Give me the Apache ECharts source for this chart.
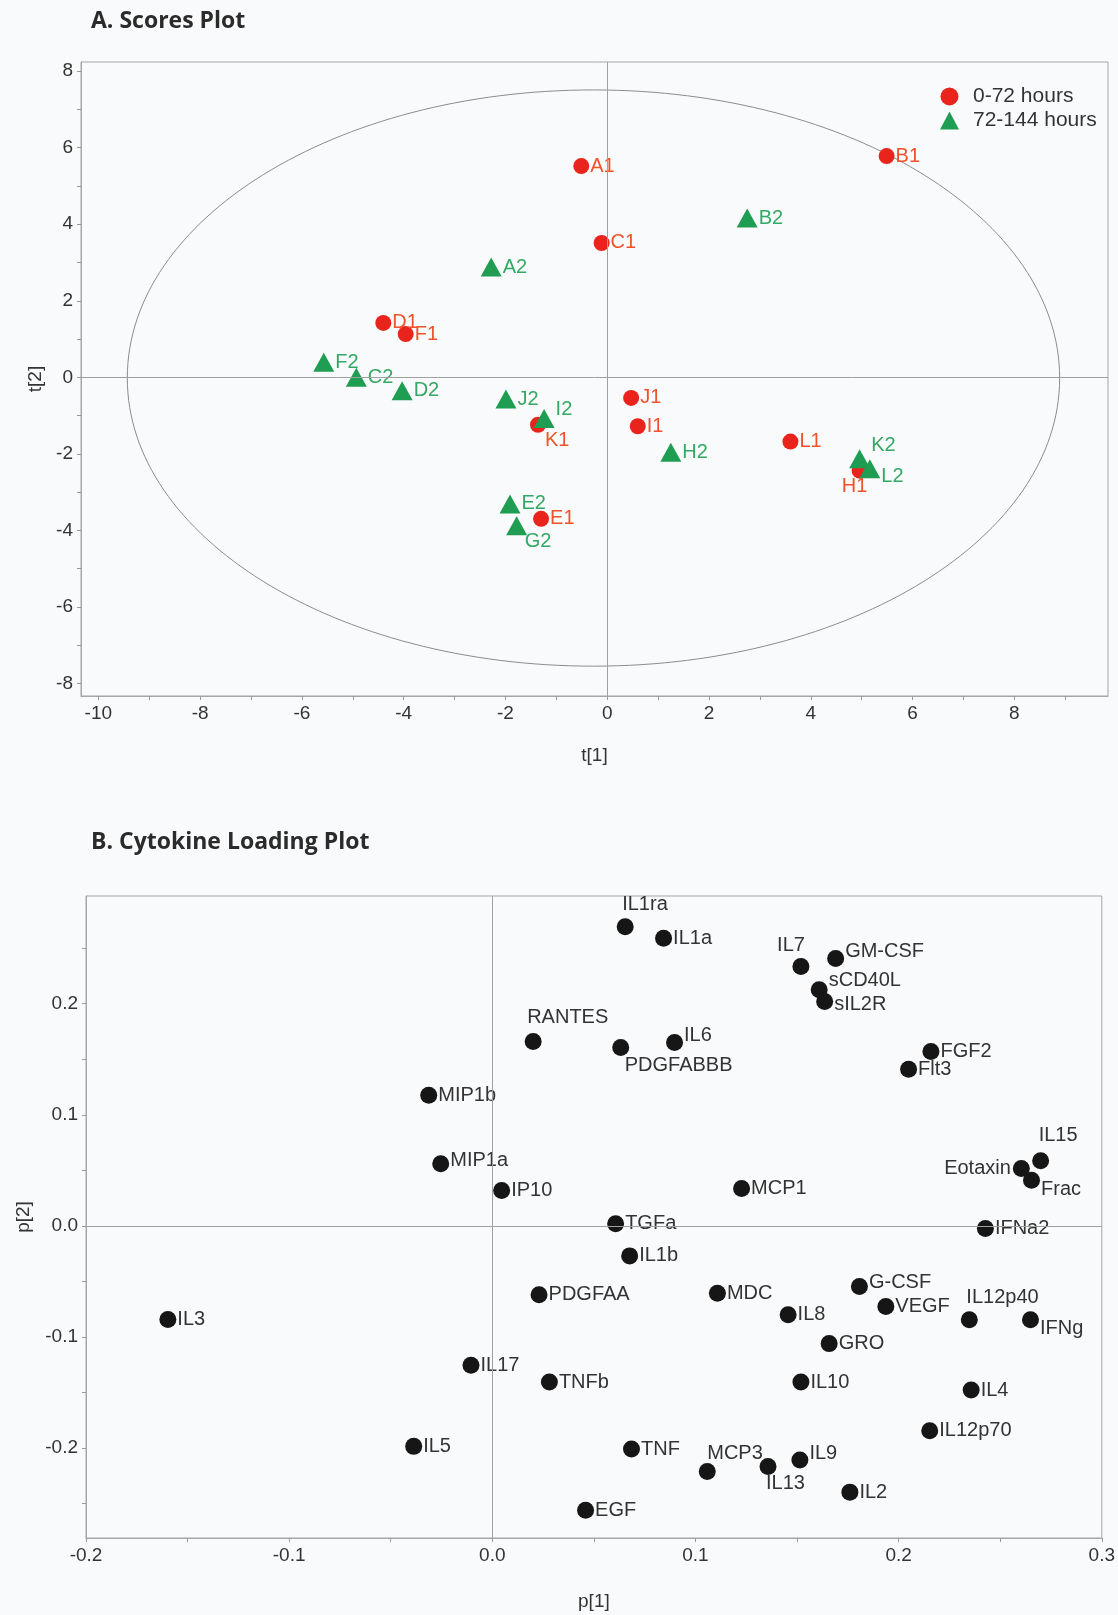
<!DOCTYPE html>
<html>
<head>
<meta charset="utf-8">
<title>Scores and Cytokine Loading Plot</title>
<script src="https://cdn.jsdelivr.net/npm/echarts@6/dist/echarts.min.js"></script>
<style>
    html, body { margin: 0; padding: 0; background: #f9fafb; }
    #chartDemo { width: 1118px; height: 1615px; }
</style>
</head>
<body>
<div id="chartDemo"></div>
<script>
// A. scores plot, 0-72 hours (red circles)
let earlyNames = ['A1', 'B1', 'C1', 'D1', 'F1', 'J1', 'I1', 'K1', 'L1', 'H1', 'E1'];
let earlyT1 = [-0.51, 5.49, -0.11, -4.40, -3.96, 0.47, 0.60, -1.36, 3.60, 4.96, -1.30];
let earlyT2 = [5.52, 5.78, 3.51, 1.42, 1.13, -0.54, -1.28, -1.24, -1.68, -2.44, -3.70];

// 72-144 hours (green triangles)
let lateNames = ['B2', 'A2', 'F2', 'C2', 'D2', 'J2', 'I2', 'H2', 'K2', 'L2', 'E2', 'G2'];
let lateT1 = [2.75, -2.28, -5.57, -4.93, -4.03, -1.99, -1.24, 1.25, 4.96, 5.16, -1.91, -1.78];
let lateT2 = [4.16, 2.88, 0.39, 0.00, -0.35, -0.57, -1.08, -1.96, -2.13, -2.39, -3.31, -3.88];

// Hotelling T2 ellipse (centre, half axes) in t[1]/t[2] units
let ellipseCentre = [-0.27, -0.02];
let ellipseHalfAxes = [9.16, 7.53];

let scoreXLabels = [-10, -8, -6, -4, -2, 0, 2, 4, 6, 8];
let scoreXTicks = [-10, -9, -8, -7, -6, -5, -4, -3, -2, -1, 0, 1, 2, 3, 4, 5, 6, 7, 8, 9];
let scoreYLabels = [-8, -6, -4, -2, 0, 2, 4, 6, 8];
let scoreYTicks = [-8, -7, -6, -5, -4, -3, -2, -1, 0, 1, 2, 3, 4, 5, 6, 7, 8];

// B. cytokine loadings
let cytokines = ['IL1ra', 'IL1a', 'IL7', 'GM-CSF', 'sCD40L', 'sIL2R', 'RANTES', 'PDGFABBB', 'IL6',
    'FGF2', 'Flt3', 'MIP1b', 'MIP1a', 'IP10', 'MCP1', 'IL15', 'Eotaxin', 'Frac', 'TGFa', 'IFNa2',
    'IL1b', 'PDGFAA', 'MDC', 'G-CSF', 'VEGF', 'IL8', 'IL12p40', 'IFNg', 'IL3', 'GRO', 'IL17',
    'TNFb', 'IL10', 'IL4', 'IL12p70', 'IL5', 'TNF', 'MCP3', 'IL13', 'IL9', 'IL2', 'EGF'];
let loadP1 = [0.0654, 0.0843, 0.1519, 0.1690, 0.1609, 0.1636, 0.0201, 0.0632, 0.0897,
    0.2159, 0.2049, -0.0313, -0.0254, 0.0046, 0.1227, 0.2699, 0.2604, 0.2654, 0.0607, 0.2427,
    0.0676, 0.0230, 0.1108, 0.1807, 0.1937, 0.1456, 0.2348, 0.2649, -0.1597, 0.1658, -0.0105,
    0.0281, 0.1519, 0.2357, 0.2153, -0.0387, 0.0685, 0.1058, 0.1357, 0.1514, 0.1760, 0.0459];
let loadP2 = [0.2694, 0.2589, 0.2336, 0.2408, 0.2126, 0.2021, 0.1660, 0.1607, 0.1652,
    0.1571, 0.1411, 0.1176, 0.0560, 0.0318, 0.0336, 0.0586, 0.0517, 0.0411, 0.0020, -0.0024,
    -0.0270, -0.0620, -0.0606, -0.0546, -0.0725, -0.0800, -0.0845, -0.0845, -0.0842, -0.1060, -0.1254,
    -0.1406, -0.1406, -0.1478, -0.1845, -0.1985, -0.2009, -0.2212, -0.2167, -0.2107, -0.2397, -0.2561];

let loadXLabels = [-0.2, -0.1, 0, 0.1, 0.2, 0.3];
let loadXTicks = [-0.2, -0.15, -0.1, -0.05, 0, 0.05, 0.1, 0.15, 0.2, 0.25, 0.3];
let loadYLabels = [-0.2, -0.1, 0, 0.1, 0.2];
let loadYTicks = [-0.25, -0.2, -0.15, -0.1, -0.05, 0, 0.05, 0.1, 0.15, 0.2, 0.25];

const FONT = '"Liberation Sans", Arial, sans-serif';

// label placements that are not simply "to the right"
let topLeft = {position: 'top', align: 'left', distance: 4, offset: [-3, 0]};
let scoreLabelPos = {
    K1: {position: 'bottom', align: 'left', distance: 0, offset: [7, -2]},
    H1: {position: 'bottom', distance: 0, offset: [-5, -2]},
    G2: {position: 'bottom', align: 'left', distance: 0, offset: [8, -4]},
    K2: {offset: [0, -13]},
    I2: {offset: [0, -9]},
    L2: {offset: [0, 8]}
};
let loadLabelPos = {
    'IL1ra': topLeft,
    'RANTES': {position: 'top', align: 'left', distance: 6, offset: [-6, 0]},
    'IL15': {position: 'top', align: 'left', distance: 7, offset: [-2, 0]},
    'IL12p40': topLeft,
    'MCP3': {position: 'top', align: 'left', distance: 0, offset: [0, 0]},
    'IL7': {position: 'top', align: 'right', distance: 2, offset: [4, 0]},
    'Eotaxin': {position: 'left', distance: 2},
    'PDGFABBB': {position: 'bottom', align: 'left', distance: 0, offset: [4, 0]},
    'IL13': {position: 'bottom', align: 'left', distance: 0, offset: [-2, -2]},
    'Frac': {offset: [0, 9]},
    'IFNg': {offset: [0, 9]},
    'sCD40L': {offset: [0, -9]},
    'GM-CSF': {offset: [0, -7]},
    'IL6': {offset: [0, -7]},
    'IL9': {offset: [0, -6]},
    'G-CSF': {offset: [0, -4]},
    'MIP1a': {offset: [0, -3]},
    'sIL2R': {offset: [0, 3]}
};

function buildItems(names, xs, ys, posMap) {
    let items = [];
    for (let i = 0; i < names.length; i++) {
        let item = {name: names[i], value: [xs[i], ys[i]]};
        if (posMap[names[i]]) {
            item.label = posMap[names[i]];
        }
        items.push(item);
    }
    return items;
}

function axisCommon(labels, ticks, fmt) {
    return {
        type: 'value',
        axisLine: {show: true, onZero: false, lineStyle: {color: '#a6a6a6'}},
        axisTick: {show: true, length: 4, customValues: ticks, lineStyle: {color: '#999'}},
        axisLabel: {customValues: labels, fontSize: 19, color: '#333', fontFamily: FONT, formatter: fmt},
        splitLine: {show: false},
        nameLocation: 'middle',
        nameTextStyle: {fontSize: 19, color: '#333', fontFamily: FONT}
    };
}

let zeroLines = {
    silent: true,
    symbol: 'none',
    label: {show: false},
    lineStyle: {color: '#a0a0a0', type: 'solid', width: 1},
    data: [{xAxis: 0}, {yAxis: 0}]
};

let titleStyle = {fontSize: 23, fontWeight: 'bold', color: '#2b2b2b', fontFamily: '"Open Sans", sans-serif'};

let myChart = echarts.init(document.getElementById('chartDemo'));

let option = {
    animation: false,
    backgroundColor: '#f9fafb',
    title: [
        {text: 'A. Scores Plot', left: 86, top: 5, textStyle: titleStyle},
        {text: 'B. Cytokine Loading Plot', left: 86, top: 826, textStyle: titleStyle}
    ],
    legend: {
        left: 935, top: 81, orient: 'vertical',
        itemWidth: 19, itemHeight: 18, itemGap: 3,
        textStyle: {fontSize: 21, color: '#333', fontFamily: FONT, padding: [0, 0, 0, 9]},
        data: [{name: '0-72 hours', icon: 'circle'}, {name: '72-144 hours', icon: 'triangle'}]
    },
    grid: [
        {left: 81, top: 62, width: 1027, height: 634, show: true,
            borderColor: '#a6a6a6', borderWidth: 1, backgroundColor: '#f9fafb'},
        {left: 86, top: 896, width: 1022, height: 642, show: true,
            borderColor: '#a6a6a6', borderWidth: 1, backgroundColor: '#f9fafb'}
    ],
    xAxis: [
        Object.assign(axisCommon(scoreXLabels, scoreXTicks, v => String(v)), {
            gridIndex: 0, min: -10.34, max: 9.84, name: 't[1]', nameGap: 50
        }),
        Object.assign(axisCommon(loadXLabels, loadXTicks, v => v.toFixed(1)), {
            gridIndex: 1, min: -0.2, max: 0.3, name: 'p[1]', nameGap: 54
        })
    ],
    yAxis: [
        Object.assign(axisCommon(scoreYLabels, scoreYTicks, v => String(v)), {
            gridIndex: 0, min: -8.33, max: 8.24, name: 't[2]', nameGap: 32
        }),
        Object.assign(axisCommon(loadYLabels, loadYTicks, v => v.toFixed(1)), {
            gridIndex: 1, min: -0.281, max: 0.297, name: 'p[2]', nameGap: 53
        })
    ],
    series: [
        {
            name: 'ellipse',
            type: 'custom',
            xAxisIndex: 0,
            yAxisIndex: 0,
            silent: true,
            data: [[ellipseCentre[0], ellipseCentre[1], ellipseHalfAxes[0], ellipseHalfAxes[1]]],
            renderItem: function (params, api) {
                let c = api.coord([api.value(0), api.value(1)]);
                let s = api.size([api.value(2), api.value(3)]);
                return {
                    type: 'ellipse',
                    shape: {cx: c[0], cy: c[1], rx: s[0], ry: s[1]},
                    style: {fill: 'none', stroke: '#8c8c8c', lineWidth: 1}
                };
            },
            markLine: zeroLines
        },
        {
            name: '0-72 hours',
            type: 'scatter',
            xAxisIndex: 0,
            yAxisIndex: 0,
            symbol: 'circle',
            symbolSize: 16,
            itemStyle: {color: '#e9241d', opacity: 1},
            label: {show: true, position: 'right', distance: 1, formatter: '{b}',
                fontSize: 20, color: '#f0522a', fontFamily: FONT},
            data: buildItems(earlyNames, earlyT1, earlyT2, scoreLabelPos)
        },
        {
            name: '72-144 hours',
            type: 'scatter',
            xAxisIndex: 0,
            yAxisIndex: 0,
            symbol: 'triangle',
            symbolSize: [21, 19],
            itemStyle: {color: '#1f9d52', opacity: 1},
            label: {show: true, position: 'right', distance: 1, formatter: '{b}',
                fontSize: 20, color: '#34a865', fontFamily: FONT},
            data: buildItems(lateNames, lateT1, lateT2, scoreLabelPos)
        },
        {
            name: 'loadings',
            type: 'scatter',
            xAxisIndex: 1,
            yAxisIndex: 1,
            symbol: 'circle',
            symbolSize: 17,
            itemStyle: {color: '#161616', opacity: 1},
            label: {show: true, position: 'right', distance: 1, formatter: '{b}',
                fontSize: 20, color: '#333', fontFamily: FONT},
            markLine: zeroLines,
            data: buildItems(cytokines, loadP1, loadP2, loadLabelPos)
        }
    ]
};

myChart.setOption(option);
</script>
</body>
</html>
